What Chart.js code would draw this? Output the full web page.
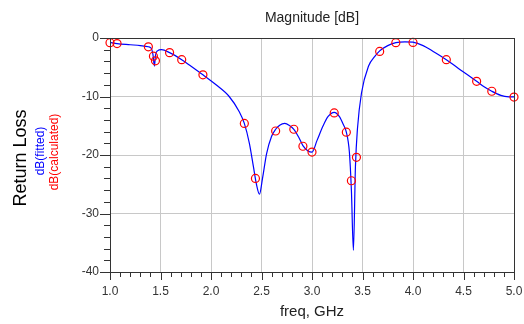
<!DOCTYPE html>
<html lang="en">
<head>
    <meta charset="UTF-8">
    <title>Magnitude [dB]</title>
    <style>
        body {
            margin: 0;
            padding: 0;
            background: #fff;
        }
        #chart {
            display: block;
        }
    </style>
</head>
<body>
    <canvas id="chart" width="524" height="324"></canvas>
    <script src="https://cdn.jsdelivr.net/npm/chart.js"></script>
    <script>
        // calculated points (red circles)
        const calcFreq = [1.00, 1.07, 1.38, 1.43, 1.45, 1.59, 1.71, 1.92, 2.33, 2.44, 2.64, 2.82, 2.91, 3.00, 3.22, 3.34, 3.39, 3.44, 3.67, 3.83, 4.00, 4.33, 4.63, 4.78, 5.00];
        const calcDb = [-0.8, -0.95, -1.5, -3.1, -3.9, -2.5, -3.7, -6.3, -14.6, -24.0, -15.9, -15.6, -18.5, -19.5, -12.8, -16.1, -24.4, -20.4, -2.3, -0.8, -0.75, -3.7, -7.4, -9.1, -10.1];

        // fitted curve (blue line)
        const fitFreq = [1.00, 1.07, 1.20, 1.30, 1.38, 1.41, 1.425, 1.44, 1.45, 1.47, 1.51, 1.59, 1.71, 1.80, 1.92, 2.05, 2.18, 2.28, 2.33, 2.38, 2.42, 2.45, 2.48, 2.51, 2.55, 2.60, 2.64, 2.68, 2.73, 2.78, 2.82, 2.87, 2.91, 2.96, 3.00, 3.05, 3.11, 3.16, 3.22, 3.27, 3.31, 3.34, 3.37, 3.39, 3.41, 3.43, 3.45, 3.49, 3.56, 3.62, 3.67, 3.75, 3.83, 3.92, 4.00, 4.10, 4.20, 4.33, 4.45, 4.55, 4.63, 4.70, 4.78, 4.87, 4.95, 5.00];
        const fitDb = [-0.75, -0.95, -1.15, -1.3, -1.5, -1.8, -2.8, -4.8, -3.0, -2.2, -2.0, -2.5, -3.7, -4.8, -6.3, -8.0, -10.0, -12.6, -14.6, -18.0, -22.0, -25.0, -26.7, -24.0, -19.8, -16.8, -15.6, -14.9, -14.6, -15.0, -15.6, -17.0, -18.4, -19.3, -19.5, -17.5, -15.0, -13.4, -12.7, -13.4, -14.8, -16.1, -19.5, -26.0, -36.3, -22.0, -15.5, -9.4, -4.8, -3.2, -2.2, -1.3, -0.8, -0.65, -0.72, -1.3, -2.3, -3.7, -5.2, -6.4, -7.4, -8.3, -9.1, -9.8, -10.05, -10.07];

        const xMin = 1.0, xMax = 5.0;
        const yMin = -40, yMax = 0;

        const font = "'Liberation Sans', Arial, sans-serif";

        function toPoints(xs, ys) {
            return xs.map((x, i) => ({ x: x, y: ys[i] }));
        }

        // frame, minor ticks and axis titles
        const decorations = {
            id: 'decorations',
            afterDraw(chart) {
                const ctx = chart.ctx;
                const area = chart.chartArea;
                const xs = chart.scales.x;
                const ys = chart.scales.y;
                ctx.save();

                ctx.strokeStyle = '#333';
                ctx.lineWidth = 1;
                ctx.strokeRect(Math.round(area.left) + 0.5, Math.round(area.top) + 0.5,
                    Math.round(area.right - area.left), Math.round(area.bottom - area.top));

                // x ticks every 0.1, major every 0.5
                for (let i = 0; i <= 40; i++) {
                    const px = Math.round(xs.getPixelForValue(xMin + i * 0.1)) + 0.5;
                    const len = i % 5 === 0 ? 8 : 5;
                    ctx.beginPath();
                    ctx.moveTo(px, area.bottom);
                    ctx.lineTo(px, area.bottom + len);
                    ctx.stroke();
                }
                // y ticks every 2, major every 10
                for (let i = 0; i <= 20; i++) {
                    const py = Math.round(ys.getPixelForValue(yMin + i * 2)) + 0.5;
                    const len = i % 5 === 0 ? 10 : 6;
                    ctx.beginPath();
                    ctx.moveTo(area.left, py);
                    ctx.lineTo(area.left - len, py);
                    ctx.stroke();
                }

                const cx = (area.left + area.right) / 2;
                ctx.fillStyle = '#222';
                ctx.textAlign = 'center';
                ctx.textBaseline = 'middle';
                ctx.font = '14px ' + font;
                ctx.fillText('Magnitude [dB]', cx, 18);
                ctx.font = '15px ' + font;
                ctx.fillText('freq, GHz', cx, 312);

                const cy = 154;
                ctx.translate(0, cy);
                ctx.rotate(-Math.PI / 2);
                ctx.font = '18px ' + font;
                ctx.fillStyle = '#000';
                ctx.fillText('Return Loss', -4, 21);
                ctx.font = '12px ' + font;
                ctx.fillStyle = '#0000ff';
                ctx.fillText('dB(fitted)', 3, 41);
                ctx.fillStyle = '#ff0000';
                ctx.fillText('dB(calculated)', 2, 55);
                ctx.restore();
            }
        };

        new Chart(document.getElementById('chart'), {
            type: 'scatter',
            data: {
                datasets: [
                    {
                        label: 'dB(calculated)',
                        data: toPoints(calcFreq, calcDb),
                        showLine: false,
                        clip: false,
                        pointStyle: 'circle',
                        pointRadius: 4,
                        pointBorderWidth: 1.2,
                        pointBorderColor: '#ff0000',
                        pointBackgroundColor: 'rgba(0,0,0,0)',
                        order: 0
                    },
                    {
                        label: 'dB(fitted)',
                        data: toPoints(fitFreq, fitDb),
                        showLine: true,
                        borderColor: '#0000ff',
                        borderWidth: 1.2,
                        pointRadius: 0,
                        cubicInterpolationMode: 'monotone',
                        order: 1
                    }
                ]
            },
            options: {
                responsive: false,
                devicePixelRatio: 1,
                animation: false,
                layout: {
                    autoPadding: false,
                    padding: { top: 38, right: 10, left: 0, bottom: 0 }
                },
                plugins: {
                    legend: { display: false },
                    tooltip: { enabled: false }
                },
                scales: {
                    x: {
                        type: 'linear',
                        min: xMin,
                        max: xMax,
                        afterFit(scale) {
                            scale.height = 52;
                            scale.paddingLeft = 0;
                            scale.paddingRight = 0;
                        },
                        ticks: {
                            stepSize: 0.5,
                            padding: 12,
                            autoSkip: false,
                            color: '#333',
                            font: { family: font, size: 12 },
                            maxRotation: 0,
                            callback: v => v.toFixed(1)
                        },
                        grid: { color: '#c8c8c8', lineWidth: 1, drawTicks: false },
                        border: { display: false }
                    },
                    y: {
                        type: 'linear',
                        min: yMin,
                        max: yMax,
                        afterFit(scale) {
                            scale.width = 110;
                            scale.paddingTop = 0;
                            scale.paddingBottom = 0;
                        },
                        ticks: {
                            stepSize: 10,
                            padding: 11,
                            color: '#333',
                            font: { family: font, size: 12 }
                        },
                        grid: { color: '#c8c8c8', lineWidth: 1, drawTicks: false },
                        border: { display: false }
                    }
                }
            },
            plugins: [decorations]
        });
    </script>
</body>
</html>
